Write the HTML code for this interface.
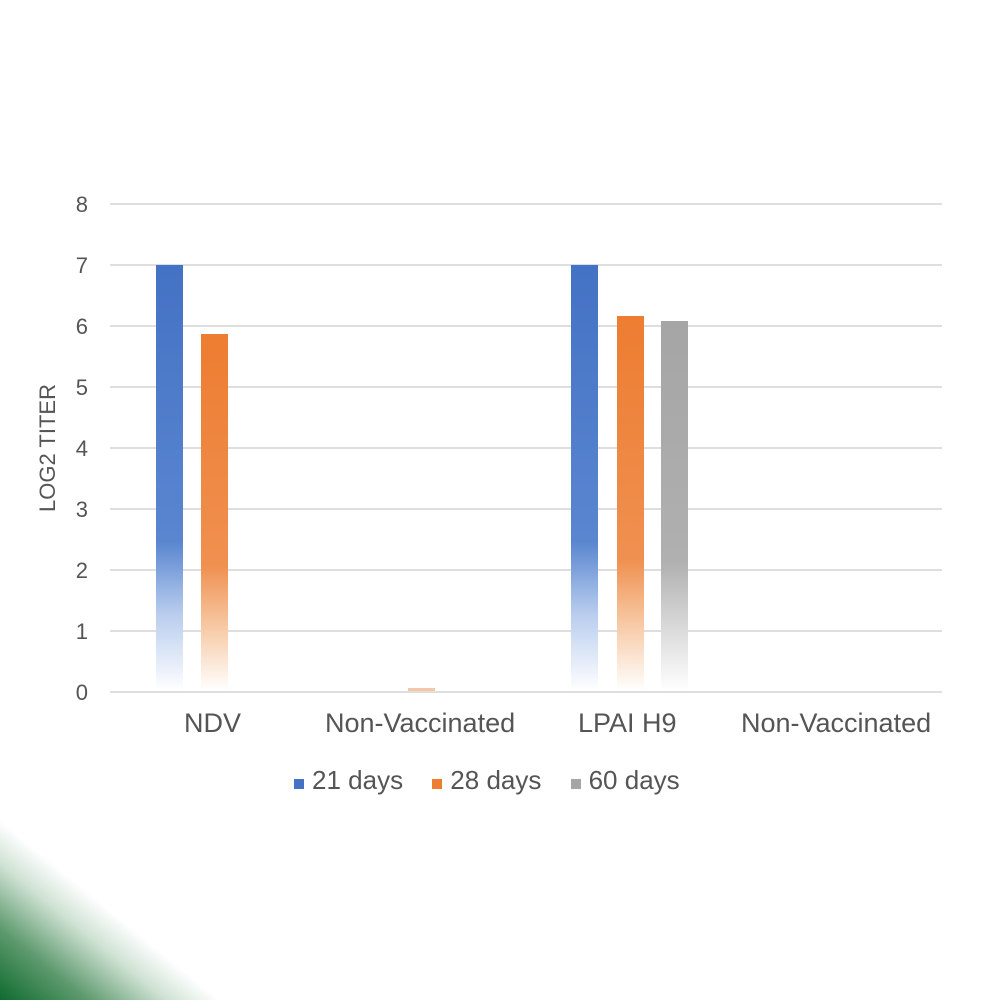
<!DOCTYPE html>
<html><head><style>
body{margin:0;width:1000px;height:1000px;background:#fff;overflow:hidden;position:relative;font-family:"Liberation Sans",sans-serif;}
.g{position:absolute;left:110px;width:832px;height:2px;background:#dedede;}
.t{position:absolute;left:60px;width:28px;text-align:right;font-size:22px;color:#555;}
.b{position:absolute;width:27px;}
.blue{background:linear-gradient(to bottom,#4472c4 0%,#5a86d0 65%,#b9cdee 82%,#fff 100%);}
.or{background:linear-gradient(to bottom,#ed7d31 0%,#f09050 65%,#f8cfae 84%,#fff 100%);}
.gr{background:linear-gradient(to bottom,#a5a5a5 0%,#b0b0b0 65%,#dcdcdc 84%,#fff 100%);}
.x{position:absolute;top:708px;font-size:27px;color:#555;}
.corner{position:absolute;left:0;top:820px;width:220px;height:180px;background:linear-gradient(to top right,#0f6b2e 0%,#5e9a6e 20%,#cfe2d3 38%,rgba(255,255,255,0) 50%);}
</style></head><body>
<div class="g" style="top:203px"></div>
<div class="g" style="top:264px"></div>
<div class="g" style="top:325px"></div>
<div class="g" style="top:386px"></div>
<div class="g" style="top:447px"></div>
<div class="g" style="top:508px"></div>
<div class="g" style="top:569px"></div>
<div class="g" style="top:630px"></div>
<div class="g" style="top:691px"></div>
<div class="t" style="top:192px">8</div>
<div class="t" style="top:253px">7</div>
<div class="t" style="top:314px">6</div>
<div class="t" style="top:375px">5</div>
<div class="t" style="top:436px">4</div>
<div class="t" style="top:497px">3</div>
<div class="t" style="top:558px">2</div>
<div class="t" style="top:619px">1</div>
<div class="t" style="top:680px">0</div>
<div style="position:absolute;left:48px;top:448px;transform:translate(-50%,-50%) rotate(-90deg);font-size:22px;color:#555;white-space:nowrap">LOG2 TITER</div>
<div class="b blue" style="left:156px;top:265px;height:426px"></div>
<div class="b or" style="left:201px;top:334px;height:357px"></div>
<div class="b or" style="left:408px;top:688px;height:3px;background:#f6c7a5"></div>
<div class="b blue" style="left:571px;top:265px;height:426px"></div>
<div class="b or" style="left:617px;top:316px;height:375px"></div>
<div class="b gr" style="left:661px;top:321px;height:370px"></div>
<div class="x" style="left:184px">NDV</div>
<div class="x" style="left:325px">Non-Vaccinated</div>
<div class="x" style="left:578px">LPAI H9</div>
<div class="x" style="left:741px">Non-Vaccinated</div>
<div style="position:absolute;top:765px;left:294px;font-size:26px;color:#555;white-space:nowrap">
<span style="display:inline-block;width:10px;height:10px;background:#4472c4;margin-right:8px"></span>21 days
<span style="display:inline-block;width:10px;height:10px;background:#ed7d31;margin:0 8px 0 22px"></span>28 days
<span style="display:inline-block;width:10px;height:10px;background:#a5a5a5;margin:0 8px 0 22px"></span>60 days</div>
<div class="corner"></div>
</body></html>
